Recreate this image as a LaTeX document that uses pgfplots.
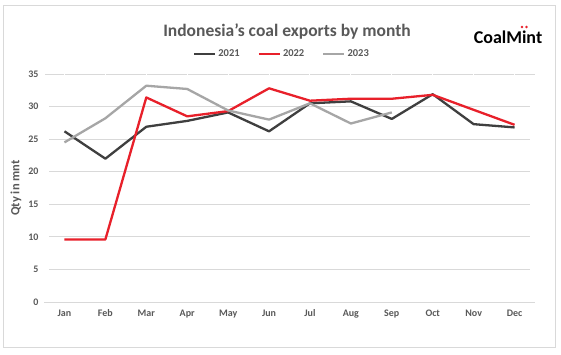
\documentclass[border=0pt]{standalone}
\usepackage{pgfplots}
\pgfplotsset{compat=1.18}
\usepackage{fontspec}
\setmainfont{Carlito}
\definecolor{c21}{HTML}{3F3F3F}
\definecolor{c22}{HTML}{E8202A}
\definecolor{c23}{HTML}{A6A6A6}
\definecolor{txt}{HTML}{595959}
\definecolor{gridgray}{HTML}{D9D9D9}
\begin{document}
\begin{tikzpicture}[x=1pt,y=1pt]
\fill[white] (0,0) rectangle (561,355);
\draw[gridgray, line width=0.8pt] (3,8) rectangle (555,350);
\begin{axis}[
  at={(44pt,53pt)}, anchor=south west,
  scale only axis, width=491pt, height=228pt,
  xmin=-0.5, xmax=11.5, ymin=0, ymax=35,
  xtick={0,...,11},
  xticklabels={Jan,Feb,Mar,Apr,May,Jun,Jul,Aug,Sep,Oct,Nov,Dec},
  ytick={0,5,...,35},
  axis line style={white, line width=0pt},
  tick style={white, line width=0pt},
  grid=none, ymajorgrids=true, grid style={draw=gridgray, line width=0.8pt},
  tick label style={font=\fontsize{10}{11}\selectfont\bfseries, text=txt},
  xticklabel style={yshift=-4pt},
  yticklabel style={xshift=-2pt},
  /pgf/number format/assume math mode=true,
  ylabel={\textbf{Qty in mnt}}, ylabel style={font=\fontsize{12.5}{14}\selectfont, text=txt, yshift=0pt},
  legend style={at={(238pt,248pt)}, anchor=center, draw=none, fill=none,
    font=\fontsize{10.5}{12}\selectfont\bfseries, text=txt, legend columns=3,
    /tikz/every even column/.append style={column sep=16pt}},
  legend image code/.code={\draw[#1, line width=2.3pt] (0pt,0pt) -- (21pt,0pt);},
  line join=round,
]
\addplot[c21, line width=2.3pt] coordinates {(0,26.2)(1,22.0)(2,26.9)(3,27.8)(4,29.1)(5,26.2)(6,30.5)(7,30.8)(8,28.1)(9,31.9)(10,27.3)(11,26.8)};
\addplot[c22, line width=2.3pt] coordinates {(0,9.6)(1,9.6)(2,31.4)(3,28.5)(4,29.3)(5,32.8)(6,30.9)(7,31.2)(8,31.2)(9,31.8)(10,29.5)(11,27.2)};
\addplot[c23, line width=2.3pt] coordinates {(0,24.5)(1,28.2)(2,33.2)(3,32.7)(4,29.4)(5,28.0)(6,30.5)(7,27.4)(8,29.1)};
\legend{2021,2022,2023}
\end{axis}
\node[text=txt, font=\fontsize{17.5}{20}\selectfont\bfseries] at (287,323) {Indonesia's coal exports by month};
\node[font=\fontsize{18}{20}\selectfont\bfseries, text=black] at (508,318) {CoalMint};
\fill[c22] (522,328) circle (1.3pt);
\fill[c22] (526.5,328) circle (1.3pt);
\end{tikzpicture}
\end{document}
